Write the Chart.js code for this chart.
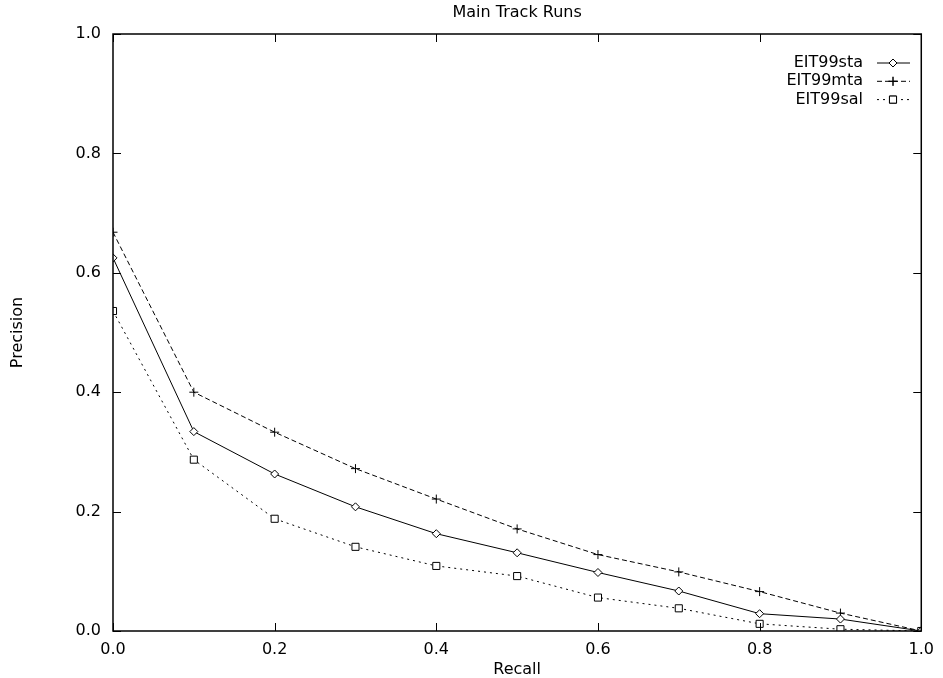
<!DOCTYPE html>
<html>
<head>
<meta charset="utf-8">
<script src="https://cdn.jsdelivr.net/npm/chart.js@4/dist/chart.umd.min.js"></script>
<style>
  html, body { margin: 0; padding: 0; background: #fff; }
  #wrap { width: 943px; height: 678px; }
</style>
</head>
<body>
<div id="wrap"><canvas id="prChart"></canvas></div>
<script>
// recall levels and precision of the three runs
var recall = [0.0, 0.1, 0.2, 0.3, 0.4, 0.5, 0.6, 0.7, 0.8, 0.9, 1.0];
var sta = [0.625, 0.334, 0.263, 0.208, 0.163, 0.131, 0.098, 0.067, 0.029, 0.020, 0.0];
var mta = [0.668, 0.400, 0.333, 0.272, 0.221, 0.171, 0.128, 0.099, 0.066, 0.030, 0.0];
var sal = [0.536, 0.287, 0.188, 0.141, 0.109, 0.092, 0.056, 0.038, 0.012, 0.003, 0.0];
var runNames = ["EIT99sta", "EIT99mta", "EIT99sal"];
var tickValues = [0.0, 0.2, 0.4, 0.6, 0.8, 1.0];
var chartTitle = 'Main Track Runs';

var fontName = "'DejaVu Sans', sans-serif";

function toPoints(values) {
    return recall.map(function(r, i) { return { x: r, y: values[i] }; });
}

var styles = [
    { dash: [], point: 'rectRot', radius: 4 },
    { dash: [5, 3], point: 'cross', radius: 4.5 },
    { dash: [2, 4], point: 'rect', radius: 5 }
];

function makeSet(label, values, s) {
    return {
        label: label,
        data: toPoints(values),
        borderColor: '#000',
        borderWidth: 1,
        borderDash: s.dash,
        pointStyle: s.point,
        pointRadius: s.radius,
        pointBorderColor: '#000',
        pointBackgroundColor: '#fff',
        pointBorderWidth: 1,
        tension: 0,
        fill: false
    };
}

// gnuplot style frame with inward ticks on all four sides, title over the plot, plus the key
var framePlugin = {
    id: 'frame',
    afterDraw: function(chart) {
        var ctx = chart.ctx;
        var a = chart.chartArea;
        var xs = chart.scales.x, ys = chart.scales.y;
        ctx.save();
        ctx.strokeStyle = '#000';
        ctx.lineWidth = 1.5;
        ctx.setLineDash([]);
        ctx.strokeRect(a.left, a.top, a.right - a.left, a.bottom - a.top);
        ctx.lineWidth = 1;
        ctx.beginPath();
        tickValues.forEach(function(v) {
            var px = Math.round(xs.getPixelForValue(v)) + 0.5;
            ctx.moveTo(px, a.bottom); ctx.lineTo(px, a.bottom - 8);
            ctx.moveTo(px, a.top); ctx.lineTo(px, a.top + 8);
            var py = Math.round(ys.getPixelForValue(v)) + 0.5;
            ctx.moveTo(a.left, py); ctx.lineTo(a.left + 8, py);
            ctx.moveTo(a.right, py); ctx.lineTo(a.right - 8, py);
        });
        ctx.stroke();

        ctx.font = '16px ' + fontName;
        ctx.fillStyle = '#000';

        // title, centred over the plot like gnuplot does
        ctx.textAlign = 'center';
        ctx.textBaseline = 'middle';
        ctx.fillText(chartTitle, (a.left + a.right) / 2, 13);

        // key
        ctx.textAlign = 'right';
        chart.data.datasets.forEach(function(ds, i) {
            var y = 63 + i * 18.3;
            ctx.fillText(ds.label, 863, y);
            ctx.setLineDash(ds.borderDash);
            ctx.beginPath();
            ctx.moveTo(877, y); ctx.lineTo(910, y);
            ctx.stroke();
            ctx.setLineDash([]);
            Chart.helpers.drawPoint(ctx, { pointStyle: ds.pointStyle, radius: ds.pointRadius, borderWidth: 1 }, 893, y);
            ctx.fillStyle = '#fff';
            ctx.fill();
            ctx.stroke();
            ctx.fillStyle = '#000';
        });
        ctx.restore();
    }
};

new Chart(document.getElementById('prChart'), {
    type: 'line',
    data: {
        datasets: [
            makeSet(runNames[0], sta, styles[0]),
            makeSet(runNames[1], mta, styles[1]),
            makeSet(runNames[2], sal, styles[2])
        ]
    },
    options: {
        responsive: true,
        maintainAspectRatio: false,
        animation: false,
        layout: { padding: { left: 0, right: 14, top: 34, bottom: 0 } },
        plugins: {
            legend: { display: false },
            tooltip: { enabled: false },
            title: { display: false }
        },
        scales: {
            x: {
                type: 'linear',
                min: 0,
                max: 1,
                grid: { display: false, drawTicks: false },
                border: { display: false },
                ticks: {
                    stepSize: 0.2,
                    color: '#000',
                    padding: 9,
                    font: { family: fontName, size: 16 },
                    callback: function(v) { return v.toFixed(1); }
                },
                title: {
                    display: true,
                    text: 'Recall',
                    color: '#000',
                    font: { family: fontName, size: 16, lineHeight: 1 },
                    padding: { top: 0, bottom: 0 }
                },
                afterFit: function(scale) { scale.height = 47; }
            },
            y: {
                min: 0,
                max: 1,
                grid: { display: false, drawTicks: false },
                border: { display: false },
                ticks: {
                    stepSize: 0.2,
                    color: '#000',
                    padding: 12,
                    font: { family: fontName, size: 16 },
                    callback: function(v) { return v.toFixed(1); }
                },
                title: {
                    display: true,
                    text: 'Precision',
                    color: '#000',
                    font: { family: fontName, size: 16, lineHeight: 1 },
                    padding: { top: 9.5, bottom: 0 }
                },
                afterFit: function(scale) { scale.width = 113; }
            }
        }
    },
    plugins: [framePlugin]
});
</script>
</body>
</html>
